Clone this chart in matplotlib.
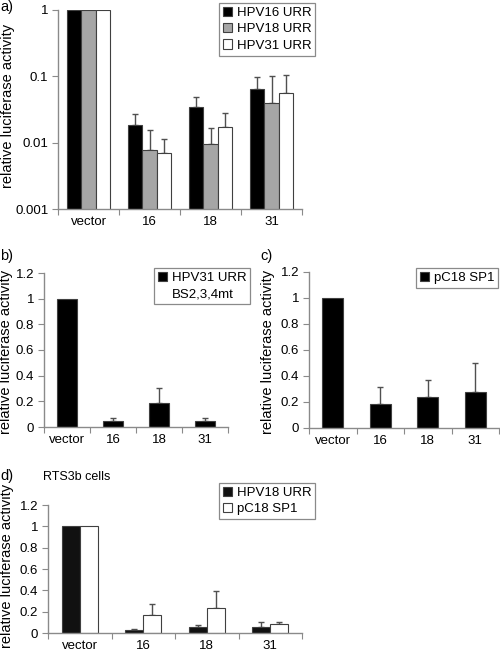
import matplotlib
matplotlib.use("Agg")
import matplotlib.pyplot as plt
from matplotlib.patches import Patch
import numpy as np

plt.rcParams['font.family'] = ['Liberation Sans', 'DejaVu Sans']
plt.rcParams['font.size'] = 9

categories = ["vector", "16", "18", "31"]

# Panel a (log scale)
a_series = ["HPV16 URR", "HPV18 URR", "HPV31 URR"]
a_values = [[1.0, 0.0184, 0.0348, 0.064],
            [1.0, 0.0077, 0.0095, 0.040],
            [1.0, 0.0071, 0.0174, 0.056]]
a_errtop = [[1.0, 0.0273, 0.048, 0.099],
            [1.0, 0.0155, 0.0168, 0.101],
            [1.0, 0.0114, 0.0277, 0.106]]
a_yticks = [0.001, 0.01, 0.1, 1]
a_yticklabels = ["0.001", "0.01", "0.1", "1"]

# Panel b
b_series = ["HPV31 URR", "BS2,3,4mt"]
b_values = [1.0, 0.049, 0.189, 0.044]
b_err = [0.0, 0.023, 0.114, 0.024]

# Panel c
c_series = ["pC18 SP1"]
c_values = [1.0, 0.185, 0.238, 0.277]
c_err = [0.0, 0.133, 0.129, 0.223]

# Panel d
d_title = "RTS3b cells"
d_series = ["HPV18 URR", "pC18 SP1"]
d_values = [[1.0, 0.025, 0.056, 0.056],
            [1.0, 0.170, 0.230, 0.088]]
d_err = [[0.0, 0.012, 0.023, 0.044],
         [0.0, 0.104, 0.160, 0.015]]

lin_yticks = [0, 0.2, 0.4, 0.6, 0.8, 1.0, 1.2]
lin_yticklabels = ["0", "0.2", "0.4", "0.6", "0.8", "1", "1.2"]

W, H = 500, 652
fig = plt.figure(figsize=(W / 100, H / 100), dpi=100)

SPINE = '#8a8a8a'
EDGE = '#404040'
ERRC = '#505050'


def px_axes(left, right, top, bottom):
    return fig.add_axes([left / W, 1 - bottom / H, (right - left) / W, (bottom - top) / H])


def style(ax):
    ax.spines['top'].set_visible(False)
    ax.spines['right'].set_visible(False)
    for s in ('left', 'bottom'):
        ax.spines[s].set_color(SPINE)
        ax.spines[s].set_linewidth(1.0)
    n = len(categories)
    ax.set_xlim(-0.5, n - 0.5)
    ax.set_xticks(np.arange(n + 1) - 0.5)
    ax.set_xticklabels([])
    ax.set_xticks(np.arange(n), minor=True)
    ax.set_xticklabels(categories, minor=True)
    ax.tick_params(axis='x', which='major', length=4, color=SPINE, direction='out')
    ax.tick_params(axis='x', which='minor', length=0, pad=5, labelsize=9.5)
    ax.tick_params(axis='y', which='major', length=4, color=SPINE, direction='out', pad=3, labelsize=9.5)
    ax.tick_params(axis='y', which='minor', length=0)


def ylabel(ax, xpix_right, ycenter):
    ax.set_ylabel("relative luciferase activity", fontsize=10.5)
    ax.yaxis.set_label_coords(xpix_right / W, 1 - ycenter / H, transform=fig.transFigure)


def legend(ax, handles, labels, xpix, top, loc='upper left'):
    leg = ax.legend(handles, labels, loc=loc,
                    bbox_to_anchor=(xpix / W, 1 - top / H), bbox_transform=fig.transFigure,
                    fancybox=False, edgecolor=SPINE, framealpha=1, fontsize=9.5,
                    handlelength=0.7, handleheight=0.7, handletextpad=0.35,
                    borderpad=0.3, labelspacing=0.3, borderaxespad=0)
    leg.get_frame().set_linewidth(0.9)
    return leg


def errbars(ax, x, top, err):
    err = np.asarray(err)
    ax.errorbar(x, top, yerr=[np.zeros_like(err), err], fmt='none', ecolor=ERRC,
                elinewidth=1.0, capsize=2.5, capthick=1.0, zorder=1)


x = np.arange(len(categories))

# ---------- Panel a ----------
ax = px_axes(58, 302, 10, 209)
style(ax)
ax.set_yscale('log')
ax.set_ylim(0.001, 1)
colors_a = ['#000000', '#a6a6a6', '#ffffff']
bw = 0.23
handles = []
for i, (name, vals, tops) in enumerate(zip(a_series, a_values, a_errtop)):
    xs = x + (i - 1) * bw
    ax.bar(xs, vals, width=bw, color=colors_a[i], edgecolor=EDGE, linewidth=0.8, zorder=2)
    v = np.array(vals); t = np.array(tops)
    m = x > 0
    errbars(ax, xs[m], v[m], (t - v)[m])
    handles.append(Patch(facecolor=colors_a[i], edgecolor=EDGE, linewidth=0.8))
ax.set_yticks(a_yticks)
ax.set_yticklabels(a_yticklabels)
ax.yaxis.set_minor_locator(matplotlib.ticker.NullLocator())
ylabel(ax, 15, 106)
legend(ax, handles, a_series, 219, 3)

# ---------- Panel b ----------
ax = px_axes(44, 228, 273, 427)
style(ax)
ax.set_ylim(0, 1.2)
ax.set_yticks(lin_yticks)
ax.set_yticklabels(lin_yticklabels)
bw = 0.43
ax.bar(x, b_values, width=bw, color='#000000', edgecolor=EDGE, linewidth=0.8, zorder=2)
errbars(ax, x[1:], np.array(b_values)[1:], np.array(b_err)[1:])
ylabel(ax, 13, 352)
hb = [Patch(facecolor='#000000', edgecolor=EDGE, linewidth=0.8),
      Patch(facecolor='none', edgecolor='none')]
legend(ax, hb, b_series, 154, 268)

# ---------- Panel c ----------
ax = px_axes(309, 499, 272, 428)
style(ax)
ax.set_ylim(0, 1.2)
ax.set_yticks(lin_yticks)
ax.set_yticklabels(lin_yticklabels)
bw = 0.44
ax.bar(x, c_values, width=bw, color='#000000', edgecolor=EDGE, linewidth=0.8, zorder=2)
errbars(ax, x[1:], np.array(c_values)[1:], np.array(c_err)[1:])
ylabel(ax, 275, 352)
legend(ax, [Patch(facecolor='#000000', edgecolor=EDGE, linewidth=0.8)], c_series, 498, 268,
       loc='upper right')

# ---------- Panel d ----------
ax = px_axes(48, 302, 505, 633)
style(ax)
ax.set_ylim(0, 1.2)
ax.set_yticks(lin_yticks)
ax.set_yticklabels(lin_yticklabels)
bw = 0.28
colors_d = ['#111111', '#ffffff']
hd = []
for i, (vals, err) in enumerate(zip(d_values, d_err)):
    xs = x + (i - 0.5) * bw
    ax.bar(xs, vals, width=bw, color=colors_d[i], edgecolor=EDGE, linewidth=0.8, zorder=2)
    errbars(ax, xs[1:], np.array(vals)[1:], np.array(err)[1:])
    hd.append(Patch(facecolor=colors_d[i], edgecolor=EDGE, linewidth=0.8))
ylabel(ax, 14, 566)
legend(ax, hd, d_series, 219, 483)

# ---------- Panel letters ----------
fig.text(0 / W, 1 - 0 / H, "a)", fontsize=10.5, va='top', ha='left')
fig.text(0 / W, 1 - 249 / H, "b)", fontsize=10.5, va='top', ha='left')
fig.text(260 / W, 1 - 249 / H, "c)", fontsize=10.5, va='top', ha='left')
fig.text(0 / W, 1 - 469 / H, "d)", fontsize=10.5, va='top', ha='left')
fig.text(43 / W, 1 - 471 / H, d_title, fontsize=9, va='top', ha='left')

fig.savefig("out.png", dpi=100)
